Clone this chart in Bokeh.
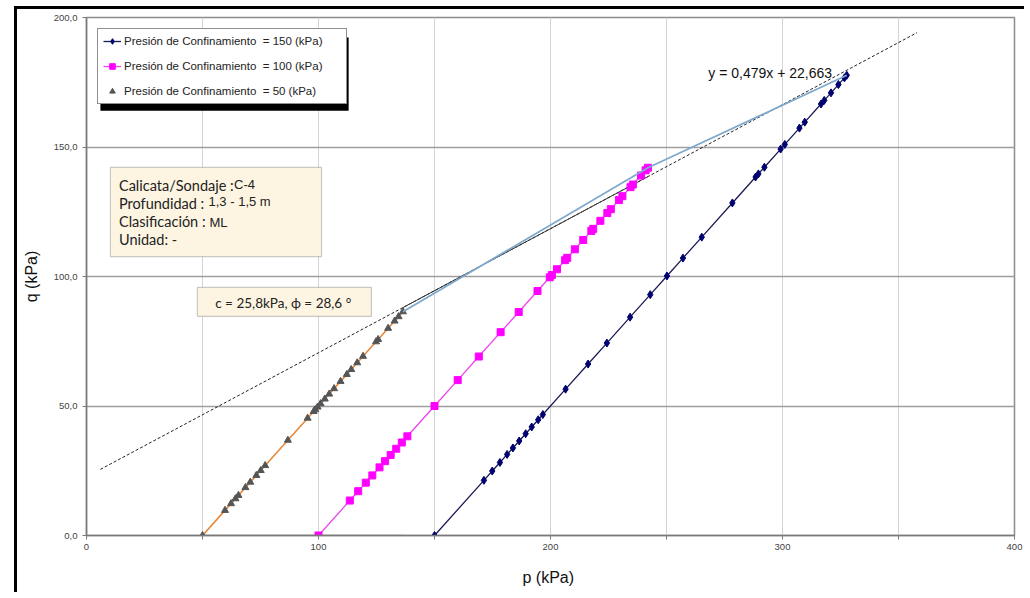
from bokeh.plotting import figure
from bokeh.models import (Range1d, FixedTicker, Legend, LegendItem, Label, BoxAnnotation)
from bokeh.embed import file_html
from bokeh.resources import INLINE

# ---------------- data ----------------
# sigma3 = 150 kPa
p150 = [150.0, 171.3, 174.9, 178.2, 181.3, 183.8, 186.5, 189.3, 191.9, 194.7, 196.7,
        206.5, 216.2, 224.3, 234.3, 243.0, 250.2, 257.1, 265.2, 278.4, 288.4, 289.6,
        292.2, 299.2, 301.0, 307.3, 309.6, 316.6, 318.0, 320.9, 324.1, 326.7, 327.7]
q150 = [0.0, 21.3, 24.9, 28.2, 31.3, 33.8, 36.5, 39.3, 41.9, 44.7, 46.7,
        56.5, 66.2, 74.3, 84.3, 93.0, 100.2, 107.1, 115.2, 128.4, 138.4, 139.6,
        142.2, 149.2, 151.0, 157.3, 159.6, 166.6, 168.0, 170.9, 174.1, 176.7, 177.7]
# sigma3 = 100 kPa
p100 = [100.0, 113.5, 117.1, 120.4, 123.2, 126.3, 128.7, 131.1, 133.5, 135.9, 138.3,
        150.0, 160.0, 169.1, 178.5, 186.3, 194.4, 199.7, 200.6, 202.8, 206.3, 207.2,
        210.5, 214.1, 217.6, 218.4, 221.5, 224.5, 226.0, 229.5, 231.0, 234.5, 235.5,
        239.0, 241.0, 242.0]
q100 = [0.0, 13.5, 17.1, 20.4, 23.2, 26.3, 28.7, 31.1, 33.5, 35.9, 38.3,
        50.0, 60.0, 69.1, 78.5, 86.3, 94.4, 99.7, 100.6, 102.8, 106.3, 107.2,
        110.5, 114.1, 117.6, 118.4, 121.5, 124.5, 126.0, 129.5, 131.0, 134.5, 135.5,
        139.0, 141.0, 142.0]
# sigma3 = 50 kPa
p50 = [50.0, 59.7, 62.3, 64.2, 65.5, 68.5, 70.6, 73.2, 75.1, 77.0, 86.8, 95.3, 97.9,
       98.6, 99.6, 100.9, 102.7, 104.6, 106.7, 109.5, 112.2, 114.1, 116.7, 119.2,
       124.8, 125.7, 130.0, 132.8, 134.5, 136.4]
q50 = [0.0, 9.7, 12.3, 14.2, 15.5, 18.5, 20.6, 23.2, 25.1, 27.0, 36.8, 45.3, 47.9,
       48.6, 49.6, 50.9, 52.7, 54.6, 56.7, 59.5, 62.2, 64.1, 66.7, 69.2,
       74.8, 75.7, 80.0, 82.8, 84.5, 86.4]

# fitted envelope  y = 0,479x + 22,663
slope = 0.479
intercept = 22.663
fit_p = [6.0, 358.0]

series_labels = ["Presión de Confinamiento  = 150 (kPa)",
                 "Presión de Confinamiento  = 100 (kPa)",
                 "Presión de Confinamiento  = 50 (kPa)"]

x_ticks = [0, 50, 100, 150, 200, 250, 300, 350, 400]
y_ticks = [0, 50, 100, 150, 200]

FONT = "Liberation Sans"

p = figure(width=1010, height=586, output_backend="svg", toolbar_location=None,
           x_range=Range1d(0, 400), y_range=Range1d(0, 200),
           min_border_left=69, min_border_right=13, min_border_top=8, min_border_bottom=60)
# outer black frame of the picture: shadow drawn up/left of the figure
p.styles = {"margin-left": "17px", "margin-top": "9px",
            "box-shadow": "-3px -3px 0px 0px #000000"}
p.background_fill_color = "white"
p.border_fill_color = "white"
p.outline_line_color = "#8c8c8c"
p.outline_line_width = 1.5

# grids
p.xgrid.ticker = FixedTicker(ticks=x_ticks)
p.ygrid.ticker = FixedTicker(ticks=y_ticks)
p.xgrid.grid_line_color = "#d4d4d4"
p.ygrid.grid_line_color = "#9e9e9e"
p.ygrid.grid_line_width = 1.3

# axes
p.xaxis.ticker = FixedTicker(ticks=x_ticks)
p.xaxis.major_label_overrides = {t: ("" if t % 100 else str(t)) for t in x_ticks}
p.yaxis.ticker = FixedTicker(ticks=y_ticks)
p.yaxis.major_label_overrides = {t: f"{t},0" for t in y_ticks}
for ax in (p.xaxis[0], p.yaxis[0]):
    ax.axis_line_color = "#7a7a7a"
    ax.axis_line_width = 1.5
    ax.major_tick_line_color = "#7a7a7a"
    ax.major_tick_out = 4
    ax.major_tick_in = 0
    ax.minor_tick_line_color = None
    ax.major_label_text_font = FONT
    ax.major_label_text_font_size = "9.5px"
    ax.major_label_text_color = "#444444"
    ax.axis_label_text_font = FONT
    ax.axis_label_text_font_size = "16px"
    ax.axis_label_text_font_style = "normal"
    ax.axis_label_text_color = "#111111"
p.xaxis.axis_label = "p  (kPa)"
p.yaxis.axis_label = "q (kPa)"
p.xaxis.major_label_standoff = 4
p.yaxis.major_label_standoff = 5
p.xaxis.axis_label_standoff = 16
p.yaxis.axis_label_standoff = 11

# envelope (dashed fit) and solid part
fit_q = [slope * x + intercept for x in fit_p]
p.line(fit_p, fit_q, line_color="#222222", line_dash="3 2", line_width=1)
tops_p = [p50[-1], p100[-1], p150[-1]]
tops_q = [q50[-1], q100[-1], q150[-1]]
p.line([p50[-1], p100[-1]], [slope * p50[-1] + intercept, slope * p100[-1] + intercept],
       line_color="#333333", line_width=1)

# series 50: light grey base line, orange path, grey triangles
p.line([p50[0], p50[-1]], [q50[0], q50[0]], line_color="#c8c8c8", line_width=2)
p.line(p50, q50, line_color="#e8883a", line_width=1.6)
r50 = p.scatter(p50, q50, marker="triangle", size=7, fill_color="#555555",
                line_color="#555555")
leg50_line = p.line([], [], line_color="#bdbdbd", line_width=1.5)

# series 100
l100 = p.line(p100, q100, line_color="#ee44ee", line_width=1.3)
r100 = p.scatter(p100, q100, marker="square", size=7, fill_color="#ff00ff",
                 line_color="#ff00ff")

# series 150
l150 = p.line(p150, q150, line_color="#1a1a55", line_width=1.3)
r150 = p.scatter(p150, q150, marker="diamond", size=8, fill_color="#000070",
                 line_color="#000070")

# line joining the failure points
p.line(tops_p, tops_q, line_color="#7fa9cc", line_width=1.8)

# legend with shadow
shadow = BoxAnnotation(left=6.0, right=113.0, top=192.3, bottom=164.0,
                       fill_color="black", fill_alpha=1, line_color=None)
p.add_layout(shadow)
legend = Legend(items=[LegendItem(label=series_labels[0], renderers=[l150, r150]),
                       LegendItem(label=series_labels[1], renderers=[l100, r100]),
                       LegendItem(label=series_labels[2], renderers=[leg50_line, r50])],
                location=(11, 431), orientation="vertical")
legend.border_line_color = "#222222"
legend.border_line_width = 1
legend.background_fill_color = "white"
legend.background_fill_alpha = 1
legend.label_text_font = FONT
legend.label_text_font_size = "11.5px"
legend.label_text_color = "#222222"
legend.glyph_width = 18
legend.glyph_height = 14
legend.label_height = 14
legend.label_width = 217
legend.label_standoff = 3
legend.padding = 5
legend.spacing = 11
legend.margin = 0
p.add_layout(legend)

# info box
CREAM = "#fdf5e1"
info = BoxAnnotation(left=10.3, right=101.3, top=142.1, bottom=107.7,
                     fill_color=CREAM, fill_alpha=1, line_color="#555555", line_width=1.2)
p.add_layout(info)
info_keys = ["Calicata/Sondaje :", "Profundidad :", "Clasificación :", "Unidad:  -"]
info_vals = ["C-4", "1,3 - 1,5 m", "ML", ""]
val_x = [63.6, 52.6, 53.0, 0]
val_dq = [0.3, 0.8, -0.5, 0]
key_q = [135.1, 128.2, 121.2, 114.3]
for k, v, vx, dq, qq in zip(info_keys, info_vals, val_x, val_dq, key_q):
    p.add_layout(Label(x=14.0, y=qq, text=k, text_font="Lato", text_font_size="14.5px",
                       text_color="#222222", text_baseline="middle"))
    if v:
        p.add_layout(Label(x=vx, y=qq + dq, text=v, text_font=FONT,
                           text_font_size="13px", text_color="#222222",
                           text_baseline="middle"))

# c / phi box
cbox = BoxAnnotation(left=47.8, right=122.8, top=95.8, bottom=84.6,
                     fill_color=CREAM, fill_alpha=1, line_color="#555555", line_width=1.2)
p.add_layout(cbox)
p.add_layout(Label(x=84.8, y=89.8, text="c = 25,8kPa, ϕ = 28,6 °", text_font="Lato",
                   text_font_size="13.5px", text_color="#222222",
                   text_align="center", text_baseline="middle"))

# equation label
p.add_layout(Label(x=268.0, y=178.4, text="y = 0,479x + 22,663", text_font=FONT,
                   text_font_size="14px", text_color="#111111", text_baseline="middle"))

open("out.html", "w").write(file_html(p, INLINE))
